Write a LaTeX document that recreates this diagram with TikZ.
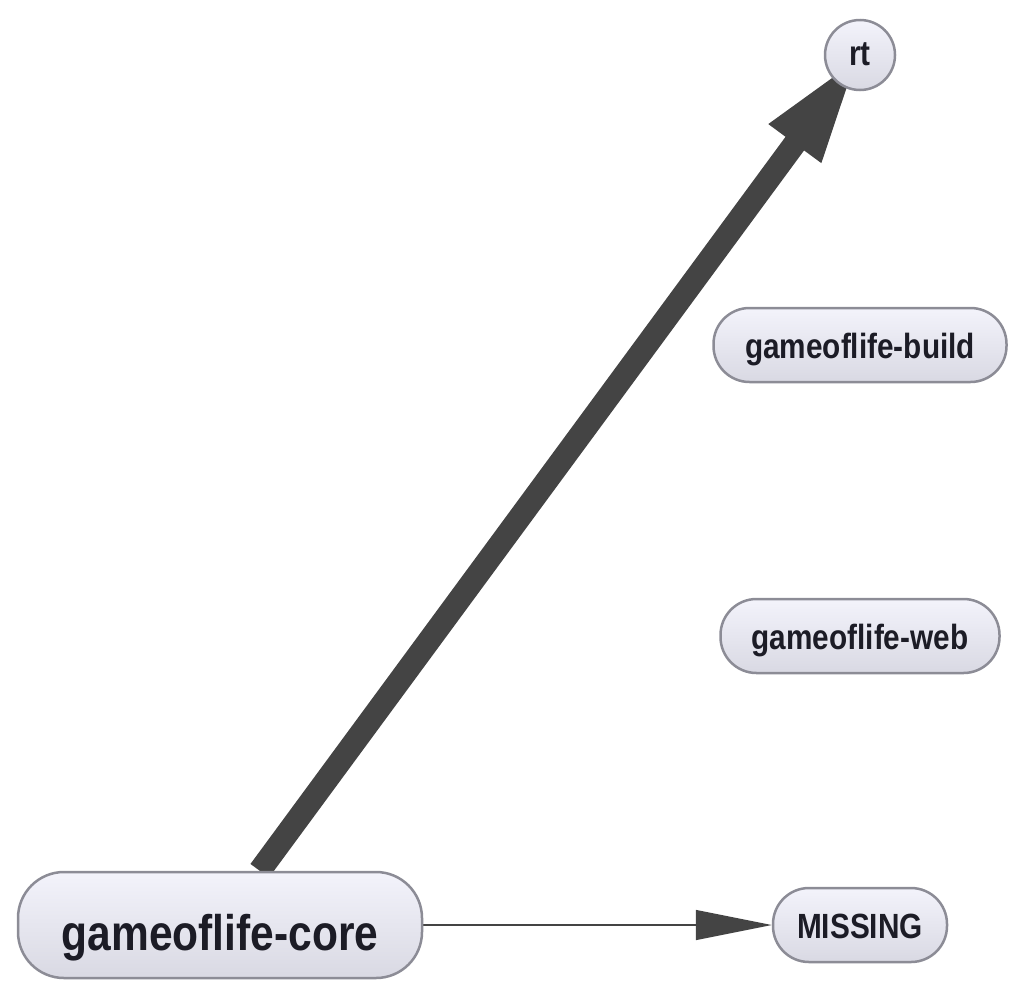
\documentclass[tikz,border=0pt]{standalone}
\usepackage{fontspec}
\setmainfont{Liberation Sans}[FakeStretch=0.85]
\usetikzlibrary{arrows.meta,backgrounds}
\definecolor{edgegray}{HTML}{444444}
\definecolor{nodetop}{HTML}{F3F3FB}
\definecolor{nodebottom}{HTML}{D9D9E3}
\definecolor{nodeline}{HTML}{8C8C96}
\definecolor{nodetext}{HTML}{1C1C26}
\tikzset{
  module/.style={draw=nodeline, line width=2.5pt, top color=nodetop, bottom color=nodebottom,
    rounded corners=36pt, minimum height=74pt, inner sep=0pt, text=nodetext,
    text height=26pt, text depth=0pt, font=\bfseries\fontsize{35}{35}\selectfont},
  bigdep/.style={draw=edgegray, line width=23pt, -{Triangle[length=110pt,width=58pt]}},
  smalldep/.style={draw=edgegray, line width=1.5pt, -{Triangle[length=76pt,width=30pt]}},
}

\begin{document}
\begin{tikzpicture}[x=1pt,y=-1pt]
    \useasboundingbox (0,0) rectangle (1024,996);
    \node [module, minimum width=404pt, minimum height=106pt, rounded corners=46pt,
      text height=50pt, font=\bfseries\fontsize{50}{50}\selectfont] (core) at (220,925) {gameoflife-core};
    \node [module, circle, minimum size=70pt, text height=20pt] (rt) at (860,55) {rt};
    \node [module, minimum width=293pt] (build) at (860,345) {gameoflife-build};
    \node [module, minimum width=279pt] (web) at (860,636) {gameoflife-web};
    \node [module, minimum width=174pt] (missing) at (860,925) {MISSING};
    % edges go under the nodes
    \begin{scope}[on background layer]
    \path (core) edge [bigdep] (rt.center);
    \path (core) edge [smalldep] (missing);
    \end{scope}
\end{tikzpicture}
\end{document}
